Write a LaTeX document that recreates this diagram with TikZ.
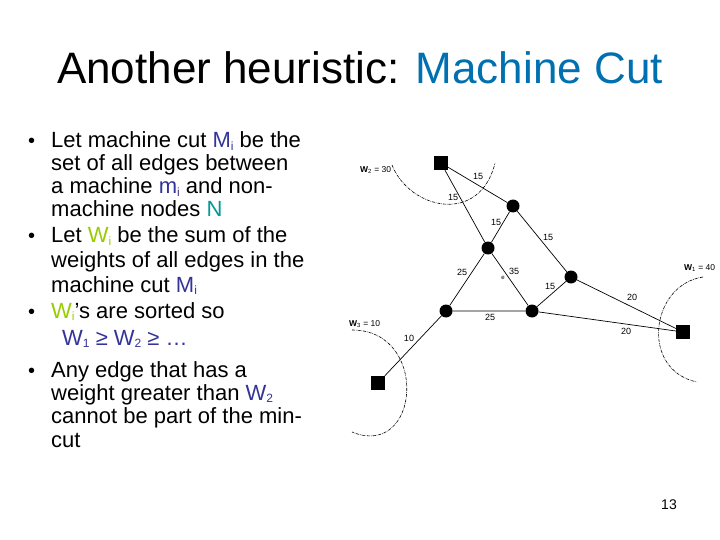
\documentclass[tikz,border=0pt]{standalone}
\usepackage{fontspec}
\setmainfont{Liberation Sans}
\definecolor{tblue}{RGB}{0,112,176}
\definecolor{mblue}{RGB}{51,51,153}
\definecolor{nteal}{RGB}{0,153,153}
\definecolor{wgreen}{RGB}{153,204,0}
\newcommand\lowsub[1]{\raisebox{-0.25ex}{\fontsize{12}{12}\selectfont #1}}
\begin{document}
\begin{tikzpicture}[x=1pt,y=-1pt,
  txt/.style={anchor=base west,inner sep=0pt,font=\fontsize{22}{22}\selectfont},
  bul/.style={anchor=base west,inner sep=0pt,font=\fontsize{20}{20}\selectfont},
  mach/.style={fill=black,minimum size=14pt,inner sep=0pt},
  task/.style={circle,fill=black,minimum size=13pt,inner sep=0pt},
  edge/.style={line width=0.7pt},
  cut/.style={line width=0.6pt,dash pattern=on 3pt off 1pt on 0.6pt off 1pt},
  wl/.style={font=\fontsize{8.5}{8.5}\selectfont,inner sep=0pt},
  lab/.style={font=\fontsize{9}{9}\selectfont,inner sep=0pt}]
\useasboundingbox (0,0) rectangle (720,540);
\node[anchor=base,inner sep=0pt,font=\fontsize{44}{44}\selectfont] (title) at (360,84) {Another heuristic: \textcolor{tblue}{Machine Cut}};
% bullets
\node[bul] (b1) at (28,148) {•};
\node[bul] (b2) at (28,243) {•};
\node[bul] (b3) at (28,318) {•};
\node[bul] (b4) at (28,377) {•};
\node[txt] (l1) at (51,148) {Let machine cut \textcolor{mblue}{M\lowsub{i}} be the};
\node[txt] (l2) at (51,171) {set of all edges between};
\node[txt] (l3) at (51,194) {a machine \textcolor{mblue}{m\lowsub{i}} and non-};
\node[txt] (l4) at (51,216) {machine nodes \textcolor{nteal}{N}};
\node[txt] (l5) at (51,243) {Let \textcolor{wgreen}{W\lowsub{i}} be the sum of the};
\node[txt] (l6) at (51,267) {weights of all edges in the};
\node[txt] (l7) at (51,292) {machine cut \textcolor{mblue}{M\lowsub{i}}};
\node[txt] (l8) at (51,318) {\textcolor{wgreen}{W\lowsub{i}}’s are sorted so};
\node[txt,text=mblue] (l9) at (62,345) {W\lowsub{1} ≥ W\lowsub{2} ≥ …};
\node[txt] (l10) at (51,377) {Any edge that has a};
\node[txt] (l11) at (51,400) {weight greater than \textcolor{mblue}{W\lowsub{2}}};
\node[txt] (l12) at (51,423) {cannot be part of the min-};
\node[txt] (l13) at (51,447) {cut};
\node[anchor=base,inner sep=0pt,font=\fontsize{14}{14}\selectfont] (pg) at (669,509) {13};
% graph
\node[mach] (m2) at (441,163) {};
\node[mach] (m3) at (378,383) {};
\node[mach] (m1) at (683,332) {};
\node[task] (a) at (513,206) {};
\node[task] (b) at (488,248) {};
\node[task] (c) at (571,277) {};
\node[task] (d) at (446,311) {};
\node[task] (e) at (532,311) {};
\draw[edge] (m2)--(a) (m2)--(b) (a)--(b) (a)--(c) (b)--(d) (b)--(e) (c)--(e) (c)--(m1) (d)--(e) (e)--(m1) (d)--(m3);
% cuts
\draw[cut] (392,165) .. controls (410,210) and (480,225) .. (495,163);
\draw[cut] (703,277) .. controls (650,285) and (640,370) .. (697,382);
\draw[cut] (352,330) .. controls (430,330) and (420,460) .. (352,432);
\node[wl,anchor=west] (w2) at (360,170) {\textbf{W}\textsubscript{2} = 30};
\node[wl,anchor=west] (w1) at (684,268) {\textbf{W}\textsubscript{1} = 40};
\node[wl,anchor=west] (w3) at (349,324) {\textbf{W}\textsubscript{3} = 10};
% edge labels
\node[lab] (e1) at (478,176) {15};
\node[lab] (e2) at (453,197) {15};
\node[lab] (e3) at (496,222) {15};
\node[lab] (e4) at (548,237) {15};
\node[lab] (e5) at (462,272) {25};
\node[lab] (e6) at (514,271) {35};
\node[lab] (e7) at (550,286) {15};
\node[lab] (e8) at (632,297) {20};
\node[lab] (e9) at (490,317) {25};
\node[lab] (e10) at (626,331) {20};
\node[lab] (e11) at (409,338) {10};
\node[font=\fontsize{6}{6}\selectfont,inner sep=0pt] (ee) at (503,278) {e};
\end{tikzpicture}
\end{document}
